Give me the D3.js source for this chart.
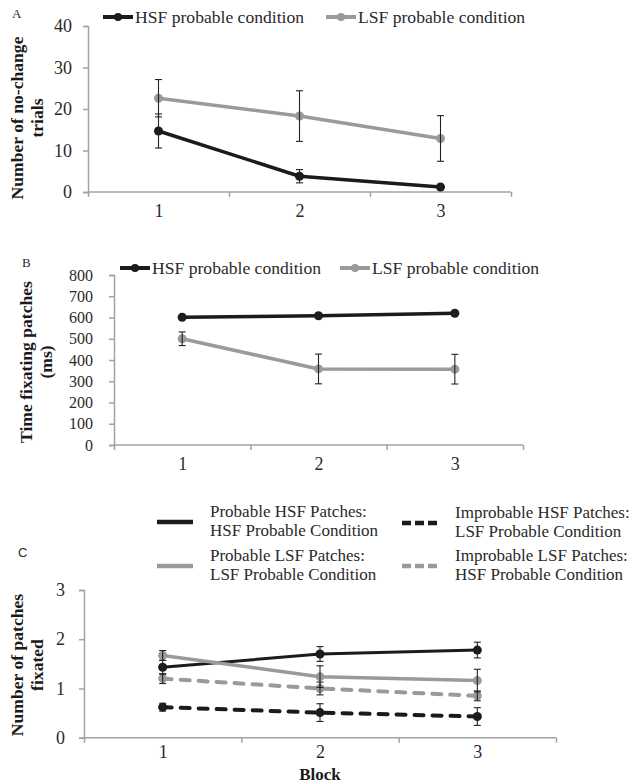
<!DOCTYPE html>
<html>
<head>
<meta charset="utf-8">
<script src="https://cdn.jsdelivr.net/npm/d3@7"></script>
<style>
  html, body { margin: 0; padding: 0; background: #fff; }
  svg { display: block; font-family: "Liberation Serif", "DejaVu Serif", serif; }
</style>
</head>
<body>
<svg id="chart" width="636" height="784"></svg>
<script>
// Blocks shared by all three panels
const blocks = ["1", "2", "3"];

// Panel A: number of no-change trials
const aTicks = [0, 10, 20, 30, 40];
const aHsfMean = [14.7, 3.8, 1.2];
const aHsfErr = [4.1, 1.6, 0.4];
const aLsfMean = [22.6, 18.3, 12.9];
const aLsfErr = [4.5, 6.1, 5.5];

// Panel B: time fixating patches (ms)
const bTicks = [0, 100, 200, 300, 400, 500, 600, 700, 800];
const bHsfMean = [601, 608, 620];
const bHsfErr = [6, 6, 6];
const bLsfMean = [500, 358, 357];
const bLsfErr = [32, 70, 70];

// Panel C: number of patches fixated
const cTicks = [0, 1, 2, 3];
const cProbHsfMean = [1.43, 1.70, 1.78];
const cProbHsfErr = [0.14, 0.15, 0.16];
const cProbLsfMean = [1.67, 1.24, 1.16];
const cProbLsfErr = [0.10, 0.22, 0.23];
const cImpLsfMean = [1.20, 1.00, 0.85];
const cImpLsfErr = [0.10, 0.13, 0.10];
const cImpHsfMean = [0.62, 0.51, 0.43];
const cImpHsfErr = [0.08, 0.18, 0.18];

const BLACK = "#1b1b1b";
const GREY = "#9a9a9a";
const AXIS = "#a3a3a3";
const TEXT = "#2a2a2a";

const svg = d3.select("#chart");

function panel(cfg) {
  const g = svg.append("g");
  const x = d3.scalePoint().domain(blocks).range([cfg.x0, cfg.x1]).padding(0.5);
  const xb = d3.scaleLinear().domain([0, blocks.length]).range([cfg.x0, cfg.x1]);
  const y = d3.scaleLinear().domain(cfg.yDomain).range([cfg.yBottom, cfg.yTop]);

  // y axis
  const ya = g.append("g").attr("transform", `translate(${cfg.x0},0)`)
    .call(d3.axisLeft(y).tickValues(cfg.ticks).tickSize(5).tickPadding(cfg.yPad).tickFormat(d3.format("d")));
  ya.select(".domain").attr("stroke", AXIS).attr("stroke-width", 1.5);
  ya.selectAll(".tick line").attr("stroke", AXIS).attr("stroke-width", 1.5);
  ya.selectAll(".tick text").attr("fill", TEXT).style("font-size", cfg.yFont + "px")
    .style("font-family", "Liberation Serif, serif");

  // x axis: boundary ticks
  const xa = g.append("g").attr("transform", `translate(0,${cfg.yBottom})`)
    .call(d3.axisBottom(xb).tickValues(d3.range(blocks.length + 1)).tickSize(5).tickFormat(""));
  xa.select(".domain").attr("stroke", AXIS).attr("stroke-width", 1.5).attr("d", `M${cfg.x0},0H${cfg.x1}`);
  xa.selectAll(".tick line").attr("stroke", AXIS).attr("stroke-width", 1.5);

  // x axis: block labels
  const xl = g.append("g").attr("transform", `translate(0,${cfg.yBottom})`)
    .call(d3.axisBottom(x).tickSize(0).tickPadding(cfg.xPad));
  xl.select(".domain").remove();
  xl.selectAll(".tick text").attr("fill", TEXT).style("font-size", "18px")
    .style("font-family", "Liberation Serif, serif");

  // y title (two lines, bold, rotated)
  const t = g.append("text")
    .attr("transform", `translate(${cfg.titleX},${cfg.titleY}) rotate(-90)`)
    .attr("text-anchor", "middle").attr("font-weight", "bold")
    .style("font-size", "17.6px").attr("fill", "#1a1a1a");
  cfg.title.forEach((line, i) => {
    t.append("tspan").attr("x", 0).attr("dy", i === 0 ? 0 : "1.12em").text(line);
  });

  // panel letter
  g.append("text").attr("x", cfg.letterX).attr("y", cfg.letterY)
    .style("font-size", "13px").attr("fill", TEXT)
    .style("font-family", cfg.letterFont || "Liberation Serif, serif")
    .text(cfg.letter);

  const lineGen = d3.line().x((d, i) => x(blocks[i])).y(d => y(d));

  cfg.series.forEach(s => {
    const sg = g.append("g");
    sg.append("path").datum(s.mean).attr("d", lineGen)
      .attr("fill", "none").attr("stroke", s.color).attr("stroke-width", s.width)
      .attr("stroke-dasharray", s.dash || null)
      .attr("stroke-linecap", s.dash ? "round" : "butt")
      .attr("stroke-linejoin", "round");
    sg.selectAll("circle").data(s.mean).join("circle")
      .attr("cx", (d, i) => x(blocks[i])).attr("cy", d => y(d))
      .attr("r", s.r).attr("fill", s.color);
  });
  // error bars drawn on top
  cfg.series.forEach(s => {
    const eg = g.append("g").attr("stroke", "#222").attr("stroke-width", 1.1).attr("fill", "none");
    s.mean.forEach((m, i) => {
      const cx = x(blocks[i]);
      const hi = y(m + s.err[i]), lo = y(m - s.err[i]);
      eg.append("line").attr("x1", cx).attr("x2", cx).attr("y1", hi).attr("y2", lo);
      eg.append("line").attr("x1", cx - 3.5).attr("x2", cx + 3.5).attr("y1", hi).attr("y2", hi);
      eg.append("line").attr("x1", cx - 3.5).attr("x2", cx + 3.5).attr("y1", lo).attr("y2", lo);
    });
  });
  return g;
}

function markerLegend(items, y) {
  items.forEach(it => {
    const lg = svg.append("g");
    lg.append("line").attr("x1", it.x).attr("x2", it.x + 30).attr("y1", y).attr("y2", y)
      .attr("stroke", it.color).attr("stroke-width", 4);
    lg.append("circle").attr("cx", it.x + 15).attr("cy", y).attr("r", 4).attr("fill", it.color);
    lg.append("text").attr("x", it.x + 32).attr("y", y + 6)
      .style("font-size", "17.6px").attr("fill", TEXT).text(it.label);
  });
}

// ---- Panel A ----
panel({
  x0: 88, x1: 511, yTop: 26, yBottom: 192, yDomain: [0, 40], ticks: aTicks,
  yPad: 11, xPad: 12, yFont: 18,
  title: ["Number of no-change", "trials"], titleX: 23, titleY: 118,
  letter: "A", letterX: 12, letterY: 18,
  series: [
    { mean: aHsfMean, err: aHsfErr, color: BLACK, width: 3.5, r: 4.5 },
    { mean: aLsfMean, err: aLsfErr, color: GREY, width: 3.5, r: 4.5 }
  ]
});
markerLegend([
  { x: 103, color: BLACK, label: "HSF probable condition" },
  { x: 326, color: GREY, label: "LSF probable condition" }
], 17);

// ---- Panel B ----
panel({
  x0: 114, x1: 523, yTop: 275, yBottom: 445, yDomain: [0, 800], ticks: bTicks,
  yPad: 16, xPad: 12, yFont: 16,
  title: ["Time fixating patches", "(ms)"], titleX: 32, titleY: 362,
  letter: "B", letterX: 22, letterY: 267,
  series: [
    { mean: bHsfMean, err: bHsfErr, color: BLACK, width: 3.5, r: 4.5 },
    { mean: bLsfMean, err: bLsfErr, color: GREY, width: 3.5, r: 4.5 }
  ]
});
markerLegend([
  { x: 120, color: BLACK, label: "HSF probable condition" },
  { x: 340, color: GREY, label: "LSF probable condition" }
], 268);

// ---- Panel C ----
panel({
  x0: 84, x1: 556, yTop: 590, yBottom: 737.7, yDomain: [0, 3], ticks: cTicks,
  yPad: 14, xPad: 8, yFont: 18,
  title: ["Number of patches", "fixated"], titleX: 23, titleY: 665,
  letter: "C", letterX: 18, letterY: 557, letterFont: "Liberation Sans, sans-serif",
  series: [
    { mean: cProbHsfMean, err: cProbHsfErr, color: BLACK, width: 3, r: 4.5 },
    { mean: cProbLsfMean, err: cProbLsfErr, color: GREY, width: 3.5, r: 4.5 },
    { mean: cImpLsfMean, err: cImpLsfErr, color: GREY, width: 4, r: 4.5, dash: "9,9" },
    { mean: cImpHsfMean, err: cImpHsfErr, color: BLACK, width: 4, r: 4.5, dash: "9,9" }
  ]
});

svg.append("text").attr("x", 320).attr("y", 780).attr("text-anchor", "middle")
  .attr("font-weight", "bold").style("font-size", "17px").attr("fill", "#1a1a1a").text("Block");

// Panel C legend
const cLegend = [
  { x: 157, y: 522, color: BLACK, dash: null, lines: ["Probable HSF Patches:", "HSF Probable Condition"] },
  { x: 157, y: 566, color: GREY, dash: null, lines: ["Probable LSF Patches:", "LSF Probable Condition"] },
  { x: 402, y: 523, color: BLACK, dash: "9,4", lines: ["Improbable HSF Patches:", "LSF Probable Condition"] },
  { x: 402, y: 566, color: GREY, dash: "9,4", lines: ["Improbable LSF Patches:", "HSF Probable Condition"] }
];
cLegend.forEach(it => {
  const lg = svg.append("g");
  lg.append("line").attr("x1", it.x).attr("x2", it.x + 36).attr("y1", it.y).attr("y2", it.y)
    .attr("stroke", it.color).attr("stroke-width", 4.5).attr("stroke-dasharray", it.dash);
  const t = lg.append("text").attr("y", it.y - 5)
    .style("font-size", "17px").attr("fill", TEXT);
  it.lines.forEach((l, i) => t.append("tspan").attr("x", it.x + 53).attr("dy", i === 0 ? 0 : "1.12em").text(l));
});
</script>
</body>
</html>
